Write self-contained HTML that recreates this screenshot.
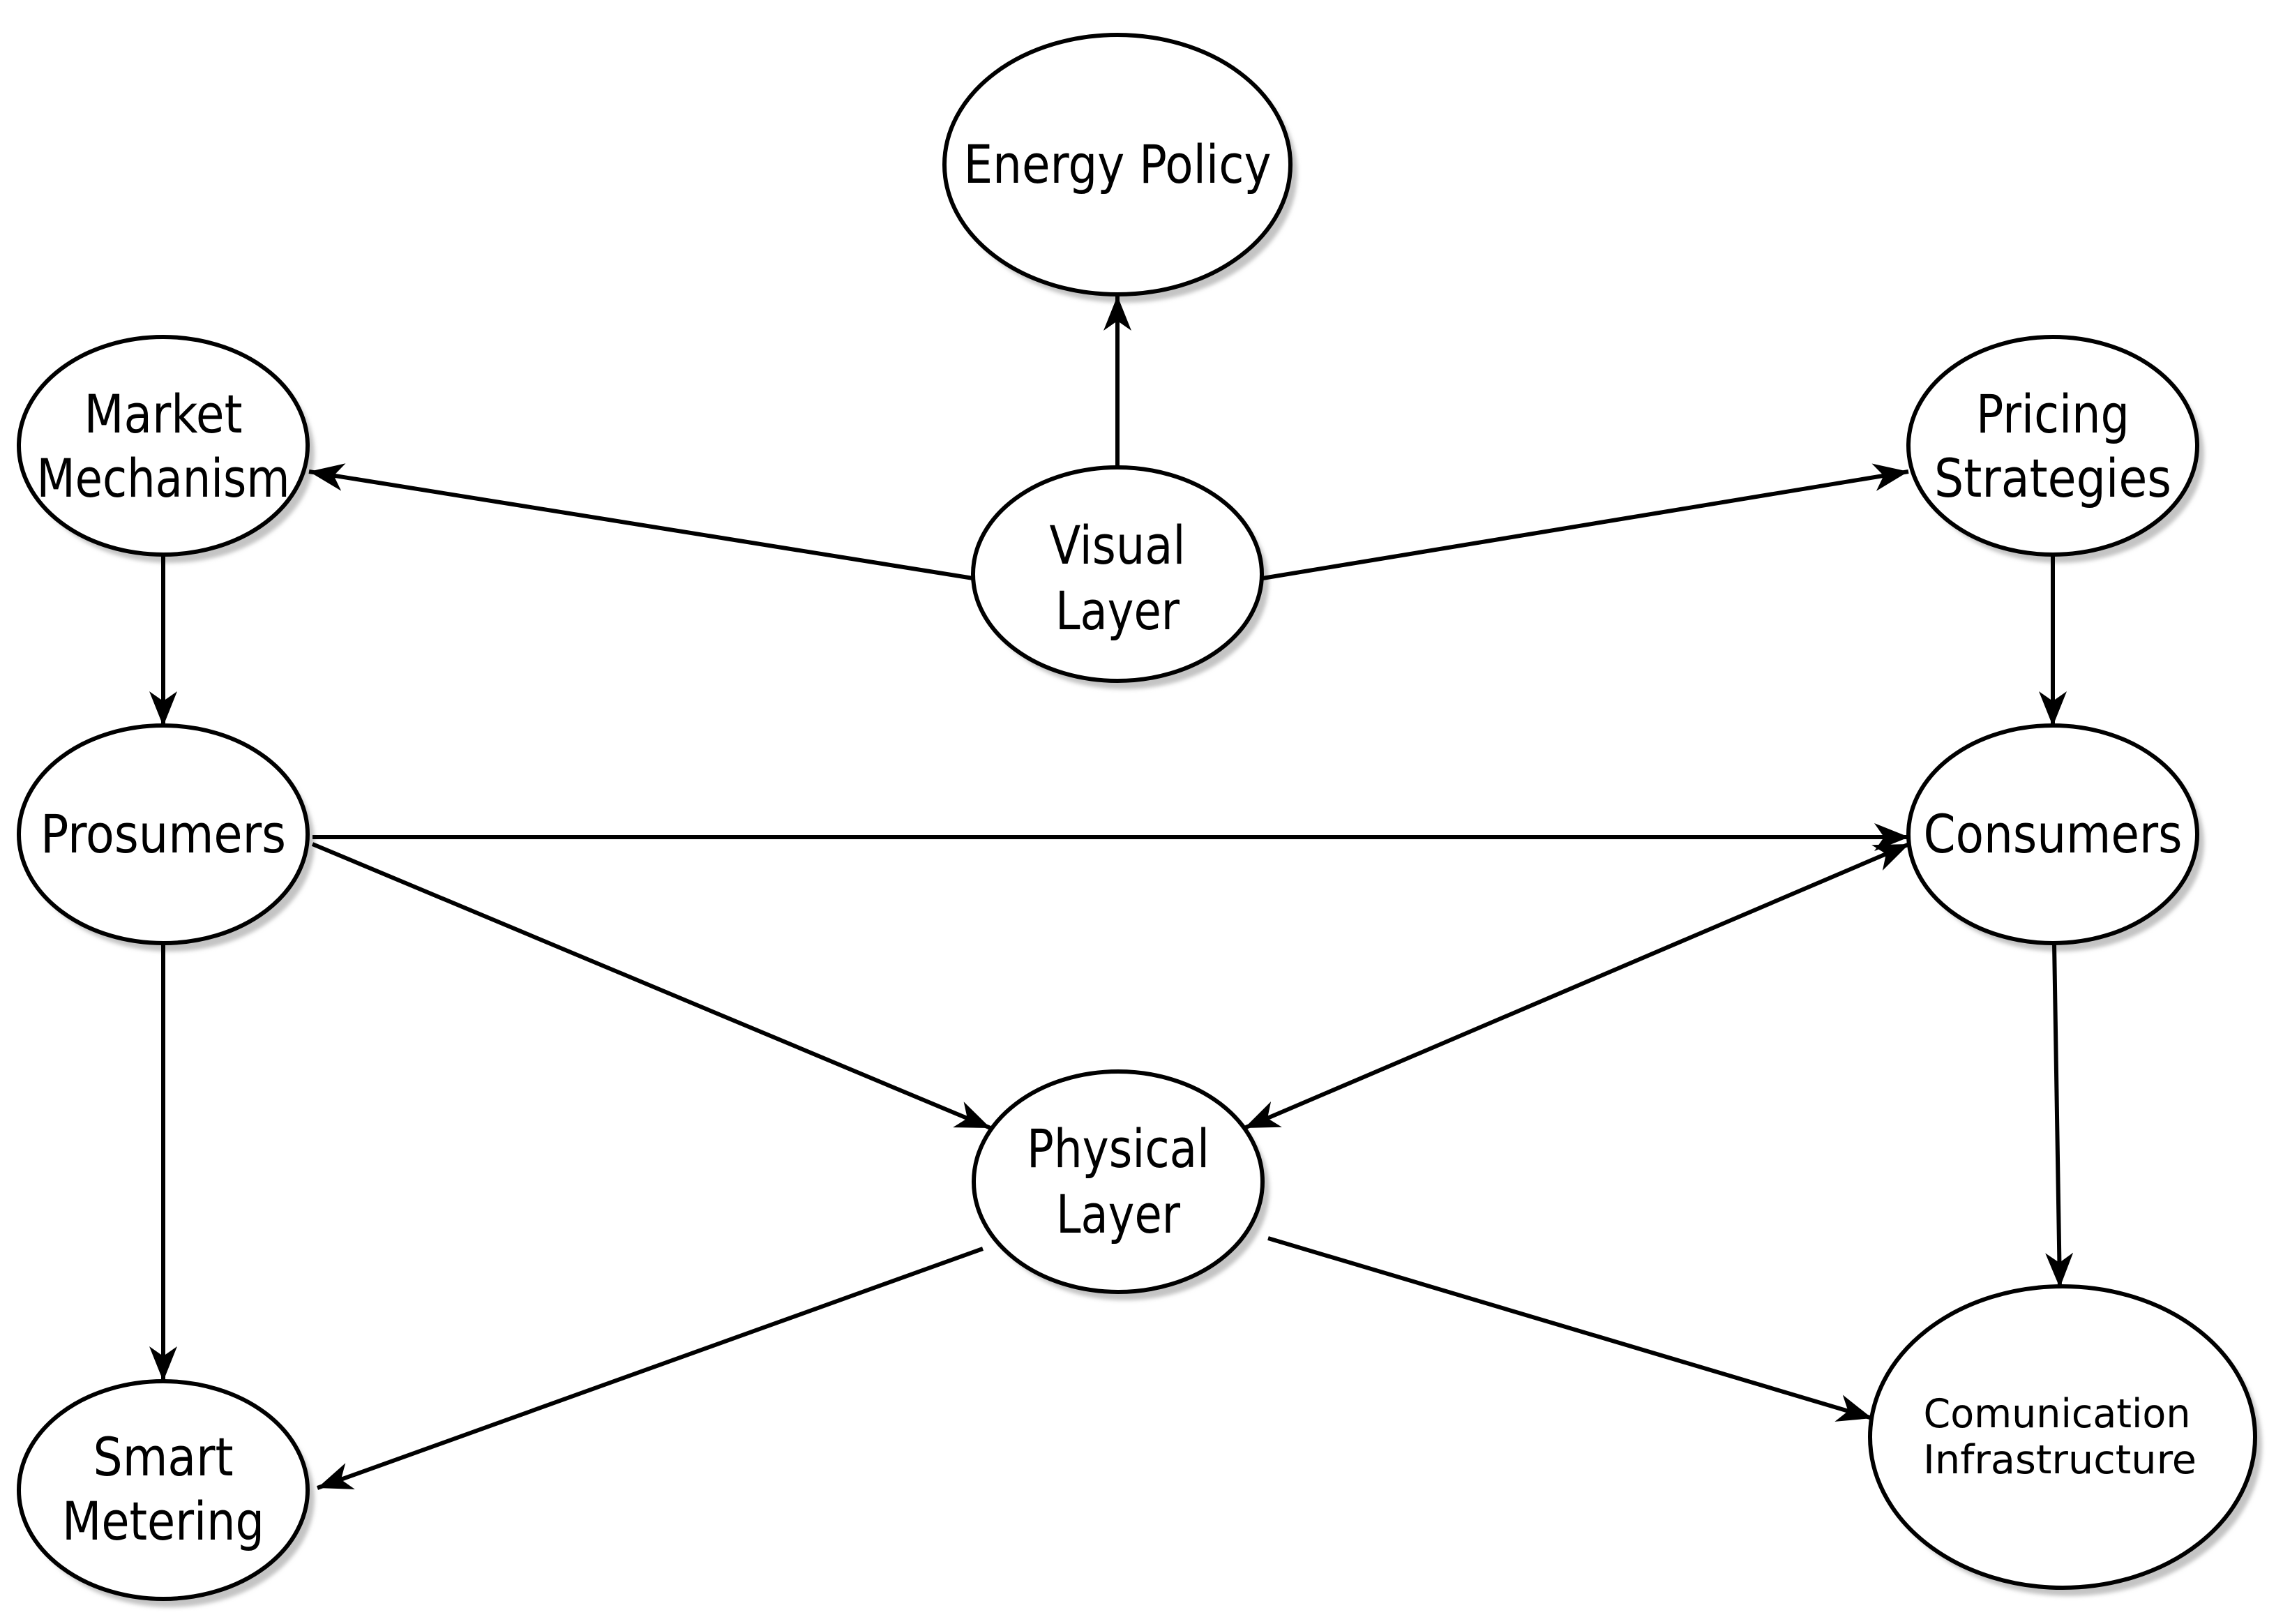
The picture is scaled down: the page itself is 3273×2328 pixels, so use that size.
<!DOCTYPE html>
<html><head><meta charset="utf-8"><style>
html,body{margin:0;padding:0;background:#fff;}
svg{display:block;}
text{font-family:"DejaVu Sans Condensed","DejaVu Sans","Liberation Sans",sans-serif;fill:#000;text-anchor:middle;}
</style></head><body>
<svg width="3273" height="2328" viewBox="0 0 3273 2328" xmlns="http://www.w3.org/2000/svg">
<defs>
<marker id="a" markerUnits="userSpaceOnUse" markerWidth="60" markerHeight="40" refX="50" refY="20" orient="auto">
<path d="M50,20 L0,0 L14,20 L0,40 Z" fill="#000"/>
</marker>
<marker id="s" markerUnits="userSpaceOnUse" markerWidth="60" markerHeight="40" refX="0" refY="20" orient="auto">
<path d="M0,20 L50,0 L36,20 L50,40 Z" fill="#000"/>
</marker>
<filter id="b" x="-10%" y="-10%" width="120%" height="120%"><feGaussianBlur stdDeviation="3"/></filter>
</defs>
<g fill="#c4c4c4" filter="url(#b)">
<ellipse cx="1612" cy="248" rx="248" ry="186"/>
<ellipse cx="1612" cy="835" rx="207" ry="153"/>
<ellipse cx="244" cy="651" rx="207" ry="156"/>
<ellipse cx="2953" cy="651" rx="207" ry="156"/>
<ellipse cx="244" cy="1208" rx="207" ry="156"/>
<ellipse cx="2953" cy="1208" rx="207" ry="156"/>
<ellipse cx="1613" cy="1706" rx="207" ry="158"/>
<ellipse cx="244" cy="2148" rx="207" ry="156"/>
<ellipse cx="2967" cy="2072" rx="276" ry="216"/>
</g>
<g stroke="#000" stroke-width="6" fill="none">
<line x1="1602" y1="670" x2="1602" y2="424" marker-end="url(#a)"/>
<line x1="1395" y1="829" x2="443" y2="676" marker-end="url(#a)"/>
<line x1="1810" y1="829" x2="2736" y2="676" marker-end="url(#a)"/>
<line x1="234" y1="795" x2="234" y2="1041" marker-end="url(#a)"/>
<line x1="2943" y1="795" x2="2943" y2="1041" marker-end="url(#a)"/>
<line x1="448" y1="1200" x2="2737" y2="1200" marker-end="url(#a)"/>
<line x1="448" y1="1210" x2="1420" y2="1617" marker-end="url(#a)"/>
<line x1="2737" y1="1210" x2="1784" y2="1617" marker-start="url(#s)" marker-end="url(#a)"/>
<line x1="234" y1="1352" x2="234" y2="1980" marker-end="url(#a)"/>
<line x1="2945" y1="1352" x2="2953" y2="1846" marker-end="url(#a)"/>
<line x1="1409" y1="1790" x2="455" y2="2133" marker-end="url(#a)"/>
<line x1="1818" y1="1775" x2="2684" y2="2033" marker-end="url(#a)"/>
</g>
<g fill="#fff" stroke="#000" stroke-width="6">
<ellipse cx="1602" cy="236" rx="248" ry="186"/>
<ellipse cx="1602" cy="823" rx="207" ry="153"/>
<ellipse cx="234" cy="639" rx="207" ry="156"/>
<ellipse cx="2943" cy="639" rx="207" ry="156"/>
<ellipse cx="234" cy="1196" rx="207" ry="156"/>
<ellipse cx="2943" cy="1196" rx="207" ry="156"/>
<ellipse cx="1603" cy="1694" rx="207" ry="158"/>
<ellipse cx="234" cy="2136" rx="207" ry="156"/>
<ellipse cx="2957" cy="2060" rx="276" ry="216"/>
</g>
<g font-size="76">
<text x="1602" y="262" textLength="441" lengthAdjust="spacingAndGlyphs">Energy Policy</text>
<text x="1602" y="808" textLength="195" lengthAdjust="spacingAndGlyphs">Visual</text>
<text x="1602" y="902" textLength="178" lengthAdjust="spacingAndGlyphs">Layer</text>
<text x="234" y="620" textLength="227" lengthAdjust="spacingAndGlyphs">Market</text>
<text x="234" y="712" textLength="363" lengthAdjust="spacingAndGlyphs">Mechanism</text>
<text x="2943" y="620" textLength="220" lengthAdjust="spacingAndGlyphs">Pricing</text>
<text x="2943" y="712" textLength="340" lengthAdjust="spacingAndGlyphs">Strategies</text>
<text x="234" y="1222" textLength="352" lengthAdjust="spacingAndGlyphs">Prosumers</text>
<text x="2943" y="1222" textLength="371" lengthAdjust="spacingAndGlyphs">Consumers</text>
<text x="1603" y="1673" textLength="262" lengthAdjust="spacingAndGlyphs">Physical</text>
<text x="1603" y="1767" textLength="178" lengthAdjust="spacingAndGlyphs">Layer</text>
<text x="234" y="2115" textLength="201" lengthAdjust="spacingAndGlyphs">Smart</text>
<text x="234" y="2207" textLength="290" lengthAdjust="spacingAndGlyphs">Metering</text>
</g>
<g font-size="57">
<text x="2949" y="2046" textLength="383" lengthAdjust="spacingAndGlyphs">Comunication</text>
<text x="2953" y="2112" textLength="392" lengthAdjust="spacingAndGlyphs">Infrastructure</text>
</g>
</svg>
</body></html>
